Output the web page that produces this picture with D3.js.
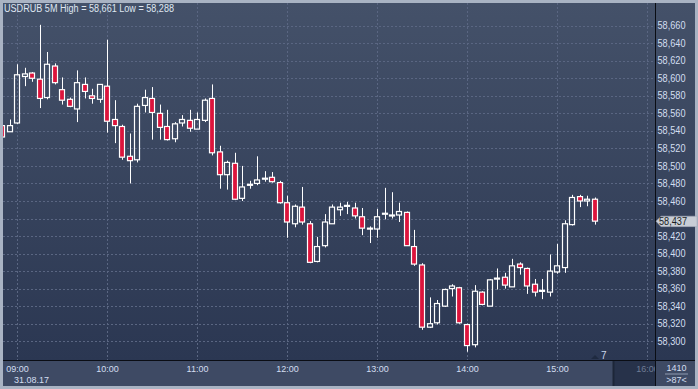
<!DOCTYPE html>
<meta charset="utf-8">
<style>
body { margin:0; background:#a9b3c3; }
svg { display:block; }
text { font-family: "Liberation Sans", Arial, sans-serif; }
</style>
<script src="https://d3js.org/d3.v7.min.js"></script>
<body>
</body>
<script>

// USDRUB 5M candles, 31.08.17, first bar at 08:50
var firstBar = new Date(2017, 7, 31, 8, 50);

var opens = [
  58.546, 58.539, 58.549, 58.602, 58.606, 58.599, 58.578, 58.614, 58.587, 58.576,
  58.565, 58.593, 58.580, 58.576, 58.591, 58.553, 58.545, 58.511, 58.507, 58.569,
  58.577, 58.560, 58.545, 58.531, 58.549, 58.552, 58.542, 58.552, 58.577, 58.516,
  58.490, 58.503, 58.463, 58.478, 58.480, 58.485, 58.487, 58.481, 58.458, 58.434,
  58.453, 58.434, 58.391, 58.409, 58.434, 58.450, 58.454, 58.452, 58.442, 58.428,
  58.428, 58.445, 58.443, 58.444, 58.447, 58.408, 58.387, 58.316, 58.321, 58.340,
  58.360, 58.361, 58.319, 58.296, 58.356, 58.340, 58.371, 58.373, 58.362, 58.388,
  58.383, 58.365, 58.358, 58.356, 58.379, 58.384, 58.433, 58.465, 58.460, 58.462
];
var highs = [
  58.547, 58.553, 58.616, 58.612, 58.607, 58.661, 58.630, 58.617, 58.601, 58.578,
  58.609, 58.601, 58.588, 58.593, 58.644, 58.575, 58.547, 58.537, 58.571, 58.587,
  58.590, 58.570, 58.564, 58.550, 58.558, 58.564, 58.561, 58.577, 58.593, 58.523,
  58.506, 58.515, 58.500, 58.483, 58.511, 58.494, 58.493, 58.483, 58.466, 58.456,
  58.476, 58.437, 58.419, 58.445, 58.456, 58.458, 58.459, 58.458, 58.452, 58.431,
  58.451, 58.475, 58.470, 58.458, 58.448, 58.427, 58.389, 58.350, 58.347, 58.360,
  58.365, 58.362, 58.320, 58.364, 58.357, 58.371, 58.383, 58.378, 58.394, 58.390,
  58.384, 58.371, 58.371, 58.399, 58.411, 58.438, 58.467, 58.467, 58.466, 58.464
];
var lows = [
  58.531, 58.539, 58.548, 58.591, 58.596, 58.566, 58.576, 58.593, 58.570, 58.567,
  58.550, 58.577, 58.571, 58.572, 58.538, 58.526, 58.507, 58.480, 58.504, 58.561,
  58.530, 58.530, 58.529, 58.527, 58.545, 58.539, 58.542, 58.550, 58.512, 58.474,
  58.473, 58.461, 58.460, 58.474, 58.478, 58.482, 58.481, 58.457, 58.418, 58.430,
  58.433, 58.389, 58.390, 58.407, 58.434, 58.443, 58.445, 58.440, 58.421, 58.412,
  58.418, 58.439, 58.440, 58.436, 58.409, 58.386, 58.313, 58.315, 58.319, 58.339,
  58.351, 58.320, 58.288, 58.293, 58.341, 58.340, 58.359, 58.360, 58.362, 58.376,
  58.354, 58.351, 58.348, 58.351, 58.377, 58.378, 58.432, 58.453, 58.454, 58.433
];
var closes = [
  58.533, 58.546, 58.604, 58.605, 58.600, 58.577, 58.616, 58.595, 58.575, 58.568,
  58.595, 58.585, 58.577, 58.593, 58.551, 58.546, 58.510, 58.506, 58.568, 58.578,
  58.561, 58.544, 58.530, 58.548, 58.553, 58.543, 58.553, 58.575, 58.515, 58.490,
  58.504, 58.462, 58.476, 58.479, 58.484, 58.486, 58.482, 58.458, 58.436, 58.454,
  58.436, 58.390, 58.408, 58.436, 58.453, 58.453, 58.455, 58.443, 58.429, 58.429,
  58.442, 58.446, 58.444, 58.448, 58.409, 58.388, 58.316, 58.320, 58.343, 58.359,
  58.363, 58.321, 58.295, 58.357, 58.342, 58.370, 58.372, 58.364, 58.386, 58.384,
  58.363, 58.356, 58.358, 58.380, 58.386, 58.434, 58.464, 58.460, 58.462, 58.437
];

var priceTicks = [58.300, 58.320, 58.340, 58.360, 58.380, 58.400, 58.420, 58.440, 58.460,
                  58.480, 58.500, 58.520, 58.540, 58.560, 58.580, 58.600, 58.620, 58.640, 58.660];
var hourTicks = ["09:00", "10:00", "11:00", "12:00", "13:00", "14:00", "15:00", "16:00"];
var dateLabel = "31.08.17";
var titleText = "USDRUB 5M High = 58,661 Low = 58,288";
var lastPrice = 58.437;
var barCount = "1410";
var spreadText = ">87<";
var markerText = "7";

const width = 698;
const height = 389;

// plot region
var pl = 3, pt = 3, pr = 655, pb = 360;

var parseHM = d3.timeParse("%Y-%m-%d %H:%M");
var hourDates = hourTicks.map(h => parseHM("2017-08-31 " + h));

var xScale = d3.scaleTime()
  .domain([hourDates[0], hourDates[hourDates.length-1]])
  .range([17.5, 647.5]);

var yScale = d3.scaleLinear().domain([58.300, 58.660]).range([341.2, 25.7]);

var ru = d3.formatLocale({decimal: ",", thousands: " ", grouping: [3], currency: ["", ""]});
var fmt = ru.format(".3f");

var times = d3.timeMinute.every(5).range(firstBar, d3.timeMinute.offset(firstBar, 5*opens.length));
var bars = times.map((t,i) => ({t: t, o: opens[i], h: highs[i], l: lows[i], c: closes[i]}));

var svg = d3.select("body").append("svg")
  .attr("width", width)
  .attr("height", height);

var defs = svg.append("defs");
var grad = defs.append("linearGradient")
  .attr("id", "bgGrad")
  .attr("x1", 0).attr("y1", 0).attr("x2", 0).attr("y2", 1);
grad.append("stop").attr("offset", 0).attr("stop-color", "#445169");
grad.append("stop").attr("offset", 1).attr("stop-color", "#2b3752");

defs.append("clipPath").attr("id", "plotClip")
  .append("rect").attr("x", pl).attr("y", pt).attr("width", pr-pl).attr("height", pb-pt);
defs.append("clipPath").attr("id", "timeClip")
  .append("rect").attr("x", 0).attr("y", pb).attr("width", pr).attr("height", height-pb);

// outer frame + panels
svg.append("rect").attr("x", 0).attr("y", 0).attr("width", width).attr("height", height)
  .attr("fill", "#a9b3c3");
svg.append("rect").attr("x", pl).attr("y", pt).attr("width", 695-pl).attr("height", pb-pt)
  .attr("fill", "url(#bgGrad)");
svg.append("rect").attr("x", pl).attr("y", pb).attr("width", 695-pl).attr("height", 386-pb)
  .attr("fill", "#3e4a64");
svg.append("rect").attr("x", 613).attr("y", pb).attr("width", pr-613).attr("height", 386-pb)
  .attr("fill", "#27324a");
svg.append("line").attr("x1", 613.5).attr("x2", 613.5).attr("y1", pb).attr("y2", 386)
  .attr("stroke", "#1d2638").attr("stroke-width", 2);

var plot = svg.append("g").attr("clip-path", "url(#plotClip)");

// grid
plot.selectAll(".hgrid")
  .data(priceTicks)
  .enter()
  .append("line")
    .classed("hgrid", true)
    .attr("x1", pl).attr("x2", pr)
    .attr("y1", d => Math.round(yScale(d)) + 0.5)
    .attr("y2", d => Math.round(yScale(d)) + 0.5)
    .attr("stroke", "#5a6682")
    .attr("stroke-dasharray", "2,2");

plot.selectAll(".vgrid")
  .data(hourDates)
  .enter()
  .append("line")
    .classed("vgrid", true)
    .attr("x1", d => Math.floor(xScale(d)) + 0.5)
    .attr("x2", d => Math.floor(xScale(d)) + 0.5)
    .attr("y1", pt).attr("y2", pb)
    .attr("stroke", "#5a6682")
    .attr("stroke-dasharray", "2,2");

// candles
function leftOf(d) { return Math.floor(xScale(d.t) - 3); }

var gc = plot.selectAll(".candle")
  .data(bars)
  .enter()
  .append("g")
  .classed("candle", true);

gc.append("line")
  .attr("x1", d => leftOf(d) + 3.5).attr("x2", d => leftOf(d) + 3.5)
  .attr("y1", d => yScale(d.h))
  .attr("y2", d => yScale(Math.max(d.o, d.c)))
  .attr("stroke", "white");

gc.append("line")
  .attr("x1", d => leftOf(d) + 3.5).attr("x2", d => leftOf(d) + 3.5)
  .attr("y1", d => yScale(Math.min(d.o, d.c)))
  .attr("y2", d => yScale(d.l))
  .attr("stroke", "white");

gc.append("rect")
  .attr("x", d => leftOf(d) + 0.5)
  .attr("y", d => yScale(Math.max(d.o, d.c)))
  .attr("width", 5)
  .attr("height", d => Math.max(yScale(Math.min(d.o, d.c)) - yScale(Math.max(d.o, d.c)), 1))
  .attr("fill", d => d.c < d.o ? "#dc143c" : "none")
  .attr("stroke", "white")
  .attr("stroke-width", 1.2);

// marker near the bottom
var lastBar = bars[bars.length-1];
var mx = xScale(lastBar.t);
svg.append("path")
  .attr("d", `M${mx-4},${pb-1} L${mx},${pb-5} L${mx+4},${pb-1} Z`)
  .attr("fill", "#1f2a40");
svg.append("text")
  .attr("x", mx + 6).attr("y", pb - 1.5)
  .attr("font-size", "10px")
  .attr("fill", "#c9d6ea")
  .text(markerText);

// separators
svg.append("line").attr("x1", pr+0.5).attr("x2", pr+0.5).attr("y1", pt).attr("y2", 386)
  .attr("stroke", "#0a0d14");
svg.append("line").attr("x1", pl).attr("x2", 695).attr("y1", pb+0.5).attr("y2", pb+0.5)
  .attr("stroke", "#0a0d14");

// price axis (the label hidden under the current price box is left out)
var py = yScale(lastPrice);
svg.selectAll(".ylab")
  .data(priceTicks.filter(d => Math.abs(yScale(d) - py) > 9))
  .enter()
  .append("text")
    .classed("ylab", true)
    .attr("x", 657.5)
    .attr("y", d => yScale(d) + 3.6)
    .attr("font-size", "10px")
    .attr("textLength", 28)
    .attr("lengthAdjust", "spacingAndGlyphs")
    .attr("fill", "#d3def0")
    .text(fmt);

// current price box
svg.append("path")
  .attr("d", `M656,${py} L661,${py-5} L697,${py-5} L697,${py+5.5} L661,${py+5.5} Z`)
  .attr("fill", "#c8cdd6")
  .attr("stroke", "#9aa2b0")
  .attr("stroke-width", 0.5);
svg.append("text")
  .attr("x", 659).attr("y", py + 4)
  .attr("font-size", "10px")
  .attr("textLength", 28)
  .attr("lengthAdjust", "spacingAndGlyphs")
  .attr("fill", "#1b1e24")
  .text(fmt(lastPrice));

// time axis
svg.append("g").attr("clip-path", "url(#timeClip)")
  .selectAll(".xlab")
  .data(hourDates)
  .enter()
  .append("text")
    .classed("xlab", true)
    .attr("x", d => xScale(d))
    .attr("y", 371.5)
    .attr("text-anchor", "middle")
    .attr("font-size", "9px")
    .attr("fill", (d,i) => i == hourDates.length-1 ? "#6f7c95" : "#d3def0")
    .text((d,i) => hourTicks[i]);

svg.append("text")
  .attr("x", 14).attr("y", 383)
  .attr("font-size", "9px")
  .attr("fill", "#d3def0")
  .text(dateLabel);

// corner box
svg.append("text")
  .attr("x", 676.5).attr("y", 371)
  .attr("text-anchor", "middle")
  .attr("font-size", "9px")
  .attr("fill", "#d3def0")
  .text(barCount);
svg.append("line").attr("x1", 665).attr("x2", 688).attr("y1", 374).attr("y2", 374)
  .attr("stroke", "#8e9ab0");
svg.append("text")
  .attr("x", 676.5).attr("y", 383.3)
  .attr("text-anchor", "middle")
  .attr("font-size", "9px")
  .attr("fill", "#d3def0")
  .text(spreadText);

// title
svg.append("text")
  .attr("x", 4).attr("y", 11.5)
  .attr("font-size", "10px")
  .attr("textLength", 170)
  .attr("lengthAdjust", "spacingAndGlyphs")
  .attr("fill", "#dfe6f1")
  .text(titleText);

</script>
